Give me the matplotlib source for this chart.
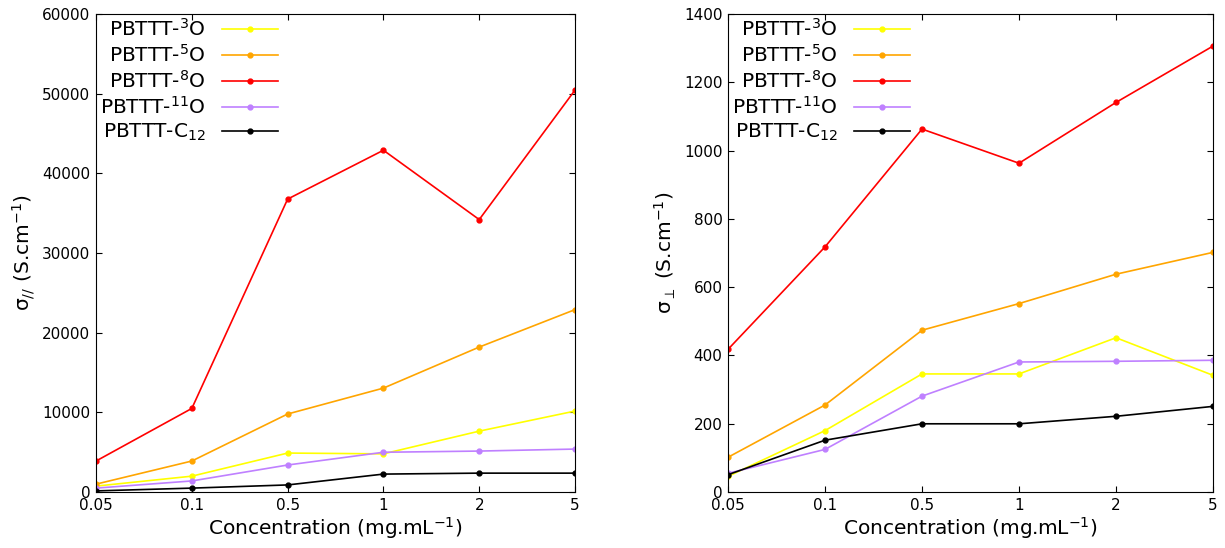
import numpy as np
import matplotlib
matplotlib.use('Agg')
import matplotlib.pyplot as plt

# concentrations (mg/mL), plotted at evenly spaced positions
conc = ['0.05', '0.1', '0.5', '1', '2', '5']

labels = ['PBTTT-$^{3}$O', 'PBTTT-$^{5}$O', 'PBTTT-$^{8}$O',
          'PBTTT-$^{11}$O', 'PBTTT-C$_{12}$']
colors = ['#ffff00', '#ffa500', '#ff0000', '#bf80ff', '#000000']

# sigma parallel (S/cm)
par_3O = [750, 2000, 4900, 4800, 7650, 10170]
par_5O = [1000, 3900, 9800, 13050, 18200, 22900]
par_8O = [3900, 10500, 36770, 42900, 34200, 50450]
par_11O = [500, 1400, 3400, 5000, 5150, 5400]
par_C12 = [150, 500, 900, 2260, 2380, 2380]

# sigma perpendicular (S/cm)
perp_3O = [46, 180, 346, 346, 452, 342]
perp_5O = [102, 255, 474, 552, 638, 702]
perp_8O = [418, 718, 1063, 963, 1141, 1306]
perp_11O = [55, 125, 281, 381, 383, 386]
perp_C12 = [51, 152, 200, 200, 222, 251]

plt.rcParams['mathtext.fontset'] = 'dejavusans'
plt.rcParams['mathtext.default'] = 'regular'

fig = plt.figure(figsize=(12.25, 5.48), dpi=100)
ax1 = fig.add_axes([0.0784, 0.102, 0.391, 0.8725])
ax2 = fig.add_axes([0.5943, 0.102, 0.3959, 0.8725])

x = np.arange(len(conc))

for ax, series, ymax, ystep, ylab in [
        (ax1, [par_3O, par_5O, par_8O, par_11O, par_C12], 60000, 10000,
         'σ$_{//}$ (S.cm$^{-1}$)'),
        (ax2, [perp_3O, perp_5O, perp_8O, perp_11O, perp_C12], 1400, 200,
         'σ$_{\\perp}$ (S.cm$^{-1}$)')]:
    for s, c, l in zip(series, colors, labels):
        ax.plot(x, s, '-', color=c, marker='o', markersize=3.5, lw=1.2, label=l)
    ax.set_xlim(0, len(conc) - 1)
    ax.set_ylim(0, ymax)
    ax.set_xticks(x)
    ax.set_xticklabels(conc)
    ax.set_yticks(np.arange(0, ymax + 1, ystep))
    ax.tick_params(direction='in', top=True, right=True, labelsize=11, length=4, pad=4)
    ax.set_xlabel('Concentration (mg.mL$^{-1}$)', fontsize=14.5, labelpad=2)
    ax.set_ylabel(ylab, fontsize=14.5)
    ax.legend(loc='upper left', frameon=False, markerfirst=False, numpoints=1,
              fontsize=14.5, handlelength=2.8, labelspacing=0.2,
              borderaxespad=0.0, borderpad=0.2)

fig.savefig('out.png', dpi=100)
